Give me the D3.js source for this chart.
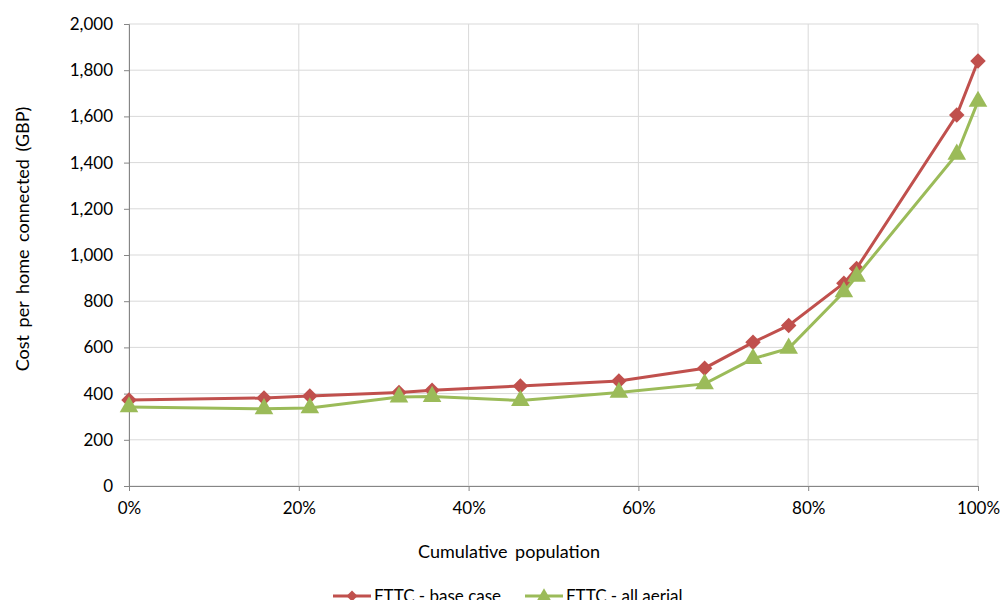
<!DOCTYPE html>
<html>
<head>
<meta charset="utf-8">
<script src="https://cdn.jsdelivr.net/npm/d3@7"></script>
<style>
  body { margin: 0; background: #fff; }
  text { font-family: Lato, "Open Sans", sans-serif; fill: #000; }
</style>
</head>
<body>
<svg width="1002" height="600"></svg>
<script>
// data
var population = [0, 15.9, 21.3, 31.8, 35.7, 46.1, 57.7, 67.8, 73.5, 77.7, 84.2, 85.7, 97.5, 100];
var baseCase = [372, 381, 390, 405, 415, 433, 455, 510, 622, 695, 878, 942, 1606, 1840];
var allAerial = [342, 334, 338, 385, 387, 370, 405, 442, 551, 596, 840, 908, 1436, 1665];
var xTicks = [0, 20, 40, 60, 80, 100];
var yTicks = [0, 200, 400, 600, 800, 1000, 1200, 1400, 1600, 1800, 2000];

var series = [
  {name: "FTTC - base case", values: baseCase, color: "#c0504d", symbol: d3.symbolSquare, rot: 45, size: 120, lsize: 60},
  {name: "FTTC - all aerial", values: allAerial, color: "#9bbb59", symbol: d3.symbolTriangle, rot: 0, size: 150, lsize: 80}
];

var svg = d3.select("svg");
var x = d3.scaleLinear().domain([0, 100]).range([129, 978]);
var y = d3.scaleLinear().domain([0, 2000]).range([486, 24]);

// gridlines
svg.append("g")
  .selectAll("line.h")
  .data(yTicks)
  .enter().append("line")
  .attr("x1", x(0)).attr("x2", x(100))
  .attr("y1", function (d) { return y(d); })
  .attr("y2", function (d) { return y(d); })
  .style("stroke", "#d9d9d9").style("stroke-width", 1);

svg.append("g")
  .selectAll("line.v")
  .data(xTicks)
  .enter().append("line")
  .attr("x1", function (d) { return x(d); })
  .attr("x2", function (d) { return x(d); })
  .attr("y1", y(0)).attr("y2", y(2000))
  .style("stroke", "#d9d9d9").style("stroke-width", 1);

// axes
var xAxis = svg.append("g")
  .attr("transform", "translate(0," + y(0) + ")")
  .call(d3.axisBottom(x).tickValues(xTicks).tickSize(5).tickFormat(function (d) { return d + "%"; }));
var yAxis = svg.append("g")
  .attr("transform", "translate(" + x(0) + ",0)")
  .call(d3.axisLeft(y).tickValues(yTicks).tickSize(5).tickFormat(d3.format(",")));

[xAxis, yAxis].forEach(function (a) {
  a.select(".domain").style("stroke", "#868686");
  a.selectAll(".tick line").style("stroke", "#868686");
  a.selectAll("text").style("font-size", "17px").style("font-family", "Lato, 'Open Sans', sans-serif").attr("fill", "#000");
});
xAxis.selectAll("text").attr("dy", "1.2em");
yAxis.selectAll("text").attr("x", -16);

// axis titles
svg.append("text")
  .attr("x", 509).attr("y", 558)
  .attr("text-anchor", "middle")
  .style("font-size", "18px")
  .style("word-spacing", "3px")
  .text("Cumulative population");

svg.append("text")
  .attr("transform", "translate(29,239) rotate(-90)")
  .attr("text-anchor", "middle")
  .style("font-size", "18px")
  .style("word-spacing", "3px")
  .text("Cost per home connected (GBP)");

// lines and markers
var line = d3.line()
  .x(function (d, i) { return x(population[i]); })
  .y(function (d) { return y(d); });

series.forEach(function (s) {
  svg.append("path")
    .datum(s.values)
    .attr("d", line)
    .style("fill", "none")
    .style("stroke", s.color)
    .style("stroke-width", 3);

  svg.append("g")
    .selectAll("path")
    .data(s.values)
    .enter().append("path")
    .attr("transform", function (d, i) {
      return "translate(" + x(population[i]) + "," + y(d) + ") rotate(" + s.rot + ")";
    })
    .attr("d", d3.symbol().type(s.symbol).size(s.size))
    .style("fill", s.color);
});

// legend
var legendX = [333, 525];
series.forEach(function (s, i) {
  var g = svg.append("g").attr("transform", "translate(" + legendX[i] + ",596)");
  g.append("line")
    .attr("x1", 0).attr("x2", 38).attr("y1", 0).attr("y2", 0)
    .style("stroke", s.color).style("stroke-width", 3);
  g.append("path")
    .attr("transform", "translate(19,0) rotate(" + s.rot + ")")
    .attr("d", d3.symbol().type(s.symbol).size(s.lsize))
    .style("fill", s.color);
  g.append("text")
    .attr("x", 41).attr("y", 6)
    .style("font-size", "17px")
    .text(s.name);
});
</script>
</body>
</html>
